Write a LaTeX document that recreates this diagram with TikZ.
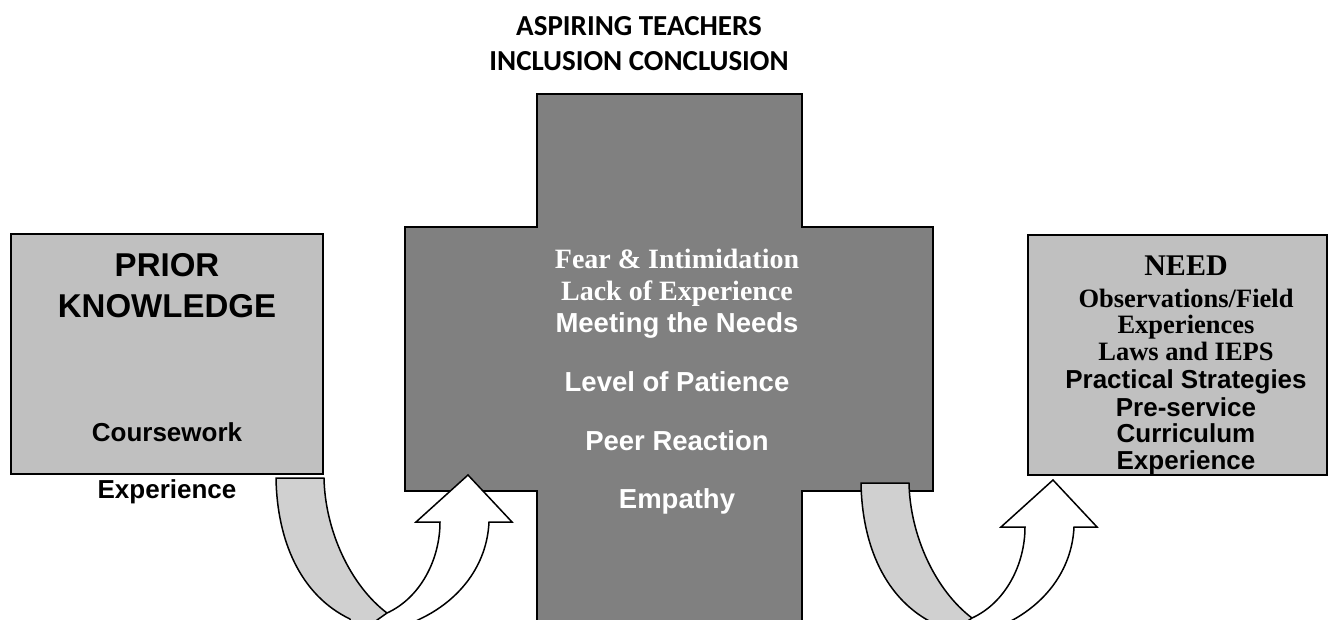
\documentclass[tikz,border=0pt]{standalone}
\usepackage{fontspec}
\setmainfont{Liberation Serif}
\setsansfont{Liberation Sans}
\newfontfamily\calibrifont{Carlito}
\definecolor{crossgray}{HTML}{808080}
\definecolor{boxgray}{HTML}{C0C0C0}
\definecolor{bandgray}{HTML}{D0D0D0}
\tikzset{
  headline/.style={anchor=base, inner sep=0pt, font=\calibrifont\bfseries\fontsize{29}{35}\selectfont},
  sans/.style={anchor=base, inner sep=0pt, font=\sffamily\bfseries\fontsize{#1}{#1}\selectfont},
  serif/.style={anchor=base, inner sep=0pt, font=\rmfamily\bfseries\fontsize{#1}{#1}\selectfont},
  greybox/.style={draw=black, line width=2pt, fill=boxgray, rectangle, inner sep=0pt},
  crossbar/.style={draw=black, line width=2pt, fill=crossgray},
  band/.style={draw=black, line width=1.5pt, fill=bandgray, line join=round},
  shaft/.style={draw=black, line width=1.5pt, fill=white, line join=miter},
  pics/uturn/.style={code={
    % back of the ribbon
    \draw[band] (276,478) -- (324,478) .. controls (325,530) and (350,585) .. (387,613)
      -- (400,625) -- (350,625) -- (350,619) .. controls (300,595) and (277,540) .. (276,478) -- cycle;
    % front of the ribbon with the head
    \draw[shaft] (468,475) -- (512,522) -- (489,522) .. controls (487,565) and (460,600) .. (420,619)
      -- (395,632) -- (370,625) -- (387,613) .. controls (420,598) and (440,560) .. (440,522)
      -- (416,522) -- cycle;
  }}
}
\begin{document}
\begin{tikzpicture}[x=1pt,y=-1pt]
  \useasboundingbox (0,0) rectangle (1331,619);
  \clip (0,0) rectangle (1331,619);

  \node[greybox, minimum width=312pt, minimum height=240pt] (priorbox) at (167,354) {};
  \node[greybox, minimum width=299pt, minimum height=240pt] (needbox) at (1177.5,355) {};

  \draw[crossbar] (537,94) -- (802,94) -- (802,227) -- (933,227) -- (933,491) -- (802,491)
    -- (802,640) -- (537,640) -- (537,491) -- (405,491) -- (405,227) -- (537,227) -- cycle;

  \pic at (0,0) {uturn};
  \pic at (585,5) {uturn};

  \node[headline] (aspiring) at (639,35) {ASPIRING TEACHERS};
  \node[headline] (inclusion) at (639,70) {INCLUSION CONCLUSION};

  \node[sans=33] (prior) at (167,276.7) {PRIOR};
  \node[sans=33] (knowledge) at (167,317) {KNOWLEDGE};
  \node[sans=26] (coursework) at (167,441.5) {Coursework};
  \node[sans=26] (experience) at (167,498) {Experience};

  \node[serif=28, text=white] (fear) at (677,268.7) {Fear \& Intimidation};
  \node[serif=28, text=white] (lack) at (677,300.3) {Lack of Experience};
  \node[sans=27.5, text=white] (meeting) at (677,332) {Meeting the Needs};
  \node[sans=27.5, text=white] (patience) at (677,391) {Level of Patience};
  \node[sans=27.5, text=white] (peer) at (677,450) {Peer Reaction};
  \node[sans=27.5, text=white] (empathy) at (677,508.5) {Empathy};

  \node[serif=30] (need) at (1186,275) {NEED};
  \node[serif=26.5] (observations) at (1186,307.3) {Observations/Field};
  \node[serif=26.5] (experiences) at (1186,333.3) {Experiences};
  \node[serif=26.5] (laws) at (1186,360) {Laws and IEPS};
  \node[sans=26] (practical) at (1186,388.3) {Practical Strategies};
  \node[sans=26] (preservice) at (1186,416) {Pre-service};
  \node[sans=26] (curriculum) at (1186,442.7) {Curriculum};
  \node[sans=26] (experience2) at (1186,469.3) {Experience};
\end{tikzpicture}
\end{document}
